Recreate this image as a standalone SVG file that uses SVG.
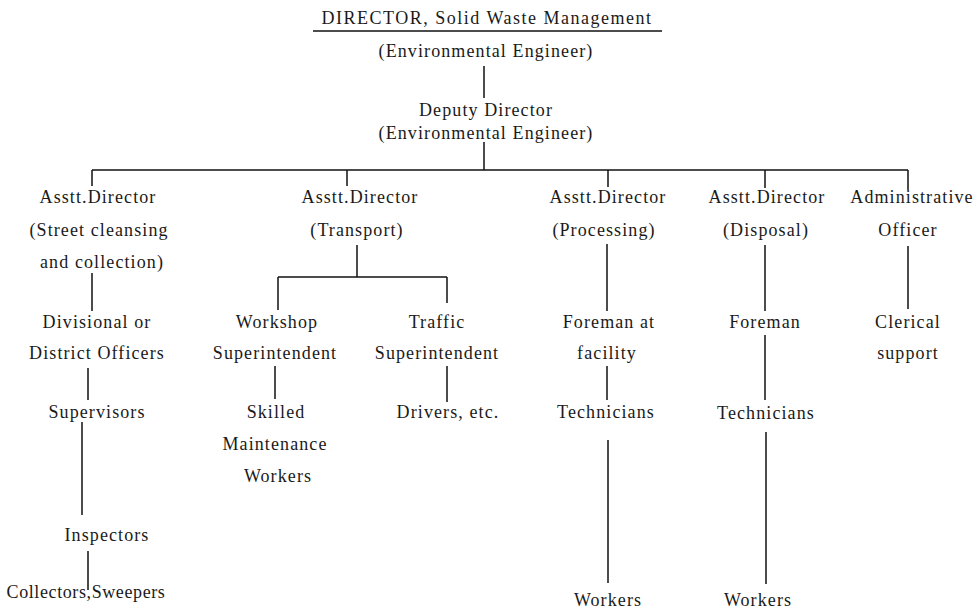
<svg xmlns="http://www.w3.org/2000/svg" width="980" height="612" viewBox="0 0 980 612">
<style>
text{font-family:"Liberation Serif","Times New Roman",serif;font-size:18px;fill:#1a1a1a;text-anchor:middle;letter-spacing:1.1px}
text.t{letter-spacing:1.5px}
text.n{letter-spacing:0.6px}
.c line{stroke:#111;stroke-width:1.5}
</style>
<rect width="980" height="612" fill="#fff"/>
<g class="c" id="connectors">
<line x1="313" y1="31" x2="662" y2="31"/>
<line x1="484" y1="66" x2="484" y2="98"/>
<line x1="484" y1="142" x2="484" y2="170"/>
<line x1="92" y1="170" x2="908" y2="170"/>
<line x1="92" y1="170" x2="92" y2="186"/>
<line x1="347" y1="170" x2="347" y2="186"/>
<line x1="608" y1="170" x2="608" y2="187"/>
<line x1="765" y1="170" x2="765" y2="188"/>
<line x1="908" y1="170" x2="908" y2="190"/>
<line x1="92" y1="273" x2="92" y2="311"/>
<line x1="88" y1="368" x2="88" y2="400"/>
<line x1="82" y1="422" x2="82" y2="515"/>
<line x1="88" y1="551" x2="88" y2="590"/>
<line x1="357" y1="245" x2="357" y2="277"/>
<line x1="278" y1="277" x2="447" y2="277"/>
<line x1="278" y1="277" x2="278" y2="310"/>
<line x1="447" y1="277" x2="447" y2="303"/>
<line x1="275" y1="366" x2="275" y2="399"/>
<line x1="447" y1="366" x2="447" y2="402"/>
<line x1="607" y1="244" x2="607" y2="311"/>
<line x1="607" y1="366" x2="607" y2="400"/>
<line x1="608" y1="440" x2="608" y2="583"/>
<line x1="765" y1="245" x2="765" y2="311"/>
<line x1="765" y1="335" x2="765" y2="400"/>
<line x1="766" y1="432" x2="766" y2="584"/>
<line x1="908" y1="246" x2="908" y2="309"/>
</g>
<g id="director"><text class="t" x="487" y="24">DIRECTOR, Solid Waste Management</text><text x="486" y="57">(Environmental Engineer)</text></g>
<g id="deputy"><text x="486" y="116">Deputy Director</text><text x="486" y="139">(Environmental Engineer)</text></g>
<g id="ad-street"><text x="98" y="203">Asstt.Director</text><text x="99" y="236">(Street cleansing</text><text x="102" y="268">and collection)</text></g>
<g id="divisional"><text x="97" y="328">Divisional or</text><text x="97" y="359">District Officers</text></g>
<g id="supervisors"><text x="97" y="418">Supervisors</text></g>
<g id="inspectors"><text x="107" y="541">Inspectors</text></g>
<g id="collectors"><text class="n" x="86" y="598">Collectors,Sweepers</text></g>
<g id="ad-transport"><text x="360" y="203">Asstt.Director</text><text x="357" y="236">(Transport)</text></g>
<g id="workshop"><text x="277" y="328">Workshop</text><text x="275" y="359">Superintendent</text></g>
<g id="skilled"><text x="276" y="418">Skilled</text><text x="275" y="450">Maintenance</text><text x="278" y="482">Workers</text></g>
<g id="traffic"><text x="437" y="328">Traffic</text><text x="437" y="359">Superintendent</text></g>
<g id="drivers"><text x="448" y="418">Drivers, etc.</text></g>
<g id="ad-processing"><text x="608" y="203">Asstt.Director</text><text x="604" y="236">(Processing)</text></g>
<g id="foreman-facility"><text x="609" y="328">Foreman at</text><text x="607" y="359">facility</text></g>
<g id="tech-processing"><text x="606" y="418">Technicians</text></g>
<g id="workers-processing"><text x="608" y="606">Workers</text></g>
<g id="ad-disposal"><text x="767" y="203">Asstt.Director</text><text x="766" y="236">(Disposal)</text></g>
<g id="foreman-disposal"><text x="765" y="328">Foreman</text></g>
<g id="tech-disposal"><text x="766" y="419">Technicians</text></g>
<g id="workers-disposal"><text x="758" y="606">Workers</text></g>
<g id="admin"><text x="912" y="203">Administrative</text><text x="908" y="236">Officer</text></g>
<g id="clerical"><text x="908" y="328">Clerical</text><text x="908" y="359">support</text></g>
</svg>
